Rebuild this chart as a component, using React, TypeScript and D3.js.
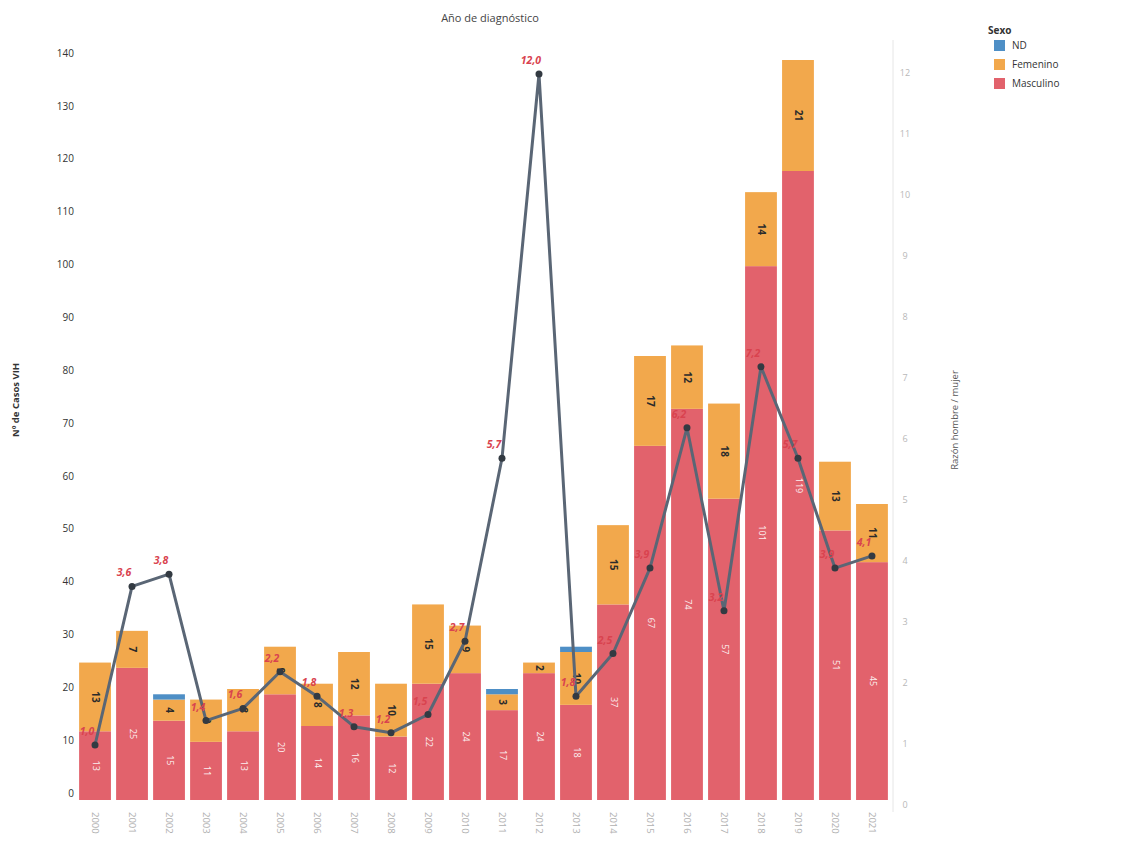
import React from "react";
import * as d3 from "d3";

const years = ["2000","2001","2002","2003","2004","2005","2006","2007","2008","2009","2010","2011","2012","2013","2014","2015","2016","2017","2018","2019","2020","2021"];
const masculino = [13,25,15,11,13,20,14,16,12,22,24,17,24,18,37,67,74,57,101,119,51,45];
const femenino = [13,7,4,8,8,9,8,12,10,15,9,3,2,10,15,17,12,18,14,21,13,11];
const nd = [0,0,1,0,0,0,0,0,0,0,0,1,0,1,0,0,0,0,0,0,0,0];
const ratio = [1.0,3.6,3.8,1.4,1.6,2.2,1.8,1.3,1.2,1.5,2.7,5.7,12.0,1.8,2.5,3.9,6.2,3.2,7.2,5.7,3.9,4.1];
const leftTicks = [0,10,20,30,40,50,60,70,80,90,100,110,120,130,140];
const rightTicks = [0,1,2,3,4,5,6,7,8,9,10,11,12];
const legendItems = [
  { label: "ND", color: "#4e8fc6" },
  { label: "Femenino", color: "#f2a84c" },
  { label: "Masculino", color: "#e2626c" },
];

const W = 1124, H = 850;
const FONT = "'Open Sans', 'DejaVu Sans', sans-serif";

export default function App() {
  const x = d3.scaleBand<string>().domain(years).range([78, 889]).paddingInner(0.14).paddingOuter(0.03);
  const y = d3.scaleLinear().domain([0, 140]).range([800, 60]);
  const y2 = d3.scaleLinear().domain([0, 12]).range([806, 74]);
  const line = d3.line<number>()
    .x((_, i) => (x(years[i]) as number) + x.bandwidth() / 2)
    .y((d) => y2(d));
  const fmt = (v: number) => v.toFixed(1).replace(".", ",");
  const bw = x.bandwidth();

  return (
    <svg width={W} height={H} style={{ position: "absolute", left: 0, top: 0, display: "block", background: "#fff", fontFamily: FONT }}>
      {/* title */}
      <text x={490} y={22} textAnchor="middle" fontSize={11} fill="#444">Año de diagnóstico</text>

      {/* left axis */}
      {leftTicks.map((t) => (
        <text key={"l" + t} x={74} y={y(t) - 6} textAnchor="end" dominantBaseline="middle" fontSize={10} fill="#333">{t}</text>
      ))}
      <text transform={`translate(19,400) rotate(-90)`} textAnchor="middle" fontSize={9.5} fontWeight="bold" fill="#333">Nº de Casos VIH</text>

      {/* right axis */}
      <line x1={893} x2={893} y1={40} y2={812} stroke="#e6e6e6" strokeWidth={1} />
      {rightTicks.map((t) => (
        <text key={"r" + t} x={905} y={y2(t)} textAnchor="middle" dominantBaseline="middle" fontSize={9} fill="#b8b8b8">{t}</text>
      ))}
      <text transform={`translate(958,420) rotate(-90)`} textAnchor="middle" fontSize={9.5} fill="#555">Razón hombre / mujer</text>

      {/* bars */}
      {years.map((yr, i) => {
        const x0 = x(yr) as number;
        const m = masculino[i], f = femenino[i], n = nd[i];
        return (
          <g key={yr}>
            <rect x={x0} width={bw} y={y(m)} height={y(0) - y(m)} fill="#e2626c" />
            <rect x={x0} width={bw} y={y(m + f)} height={y(m) - y(m + f)} fill="#f2a84c" />
            {n > 0 && <rect x={x0} width={bw} y={y(m + f + n)} height={y(m + f) - y(m + f + n)} fill="#4e8fc6" />}
          </g>
        );
      })}

      {/* bar labels */}
      {years.map((yr, i) => {
        const cx = (x(yr) as number) + bw / 2;
        const m = masculino[i], f = femenino[i];
        const ym = (y(0) + y(m)) / 2;
        const yf = (y(m) + y(m + f)) / 2;
        return (
          <g key={"lab" + yr}>
            <text transform={`translate(${cx},${ym}) rotate(90)`} textAnchor="middle" dominantBaseline="middle" fontSize={9} fill="#fff" opacity={0.9}>{m}</text>
            <text transform={`translate(${cx},${yf}) rotate(90)`} textAnchor="middle" dominantBaseline="middle" fontSize={10} fontWeight="bold" fill="#2b2b2b">{f}</text>
          </g>
        );
      })}

      {/* year labels */}
      {years.map((yr) => (
        <text key={"y" + yr} transform={`translate(${(x(yr) as number) + bw / 2},${812}) rotate(90)`} textAnchor="start" dominantBaseline="middle" fontSize={9.5} fill="#b0b0b0">{yr}</text>
      ))}

      {/* ratio line */}
      <path d={line(ratio) || ""} fill="none" stroke="#5a6675" strokeWidth={3} strokeLinejoin="round" />
      {ratio.map((r, i) => (
        <circle key={"c" + i} cx={(x(years[i]) as number) + bw / 2} cy={y2(r)} r={3.5} fill="#333a42" />
      ))}
      {ratio.map((r, i) => (
        <text key={"t" + i} x={(x(years[i]) as number) + bw / 2 - 8} y={y2(r) - 10} textAnchor="middle" fontSize={10.5} fontWeight="bold" fontStyle="italic" fill="#d9434f">{fmt(r)}</text>
      ))}

      {/* legend */}
      <text x={988} y={34} fontSize={10} fontWeight="bold" fill="#333">Sexo</text>
      {legendItems.map((it, i) => (
        <g key={it.label}>
          <rect x={994} y={40 + i * 19} width={11} height={11} fill={it.color} />
          <text x={1012} y={46 + i * 19} dominantBaseline="middle" fontSize={10} fill="#333">{it.label}</text>
        </g>
      ))}
    </svg>
  );
}
